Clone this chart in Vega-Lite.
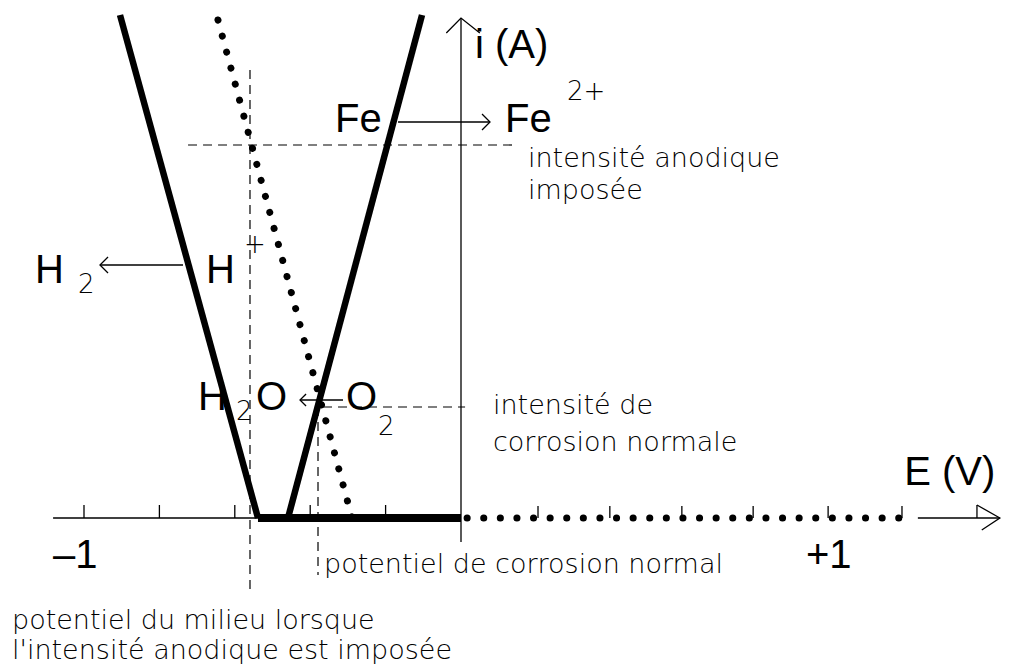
{
  "$schema": "https://vega.github.io/schema/vega-lite/v6.json",
  "width": 1015,
  "height": 666,
  "autosize": {"type": "none"},
  "padding": 0,
  "background": "white",
  "config": {"view": {"stroke": null}},
  "datasets": {
    "thin": [
      {"id": "Eaxis", "k": 0, "E": -1.082, "i": 0}, {"id": "Eaxis", "k": 1, "E": 0, "i": 0},
      {"id": "Earrow", "k": 0, "E": 1.237, "i": 0}, {"id": "Earrow", "k": 1, "E": 1.459, "i": 0},
      {"id": "Ehead", "k": 0, "E": 1.397, "i": 0.13}, {"id": "Ehead", "k": 1, "E": 1.459, "i": 0}, {"id": "Ehead", "k": 2, "E": 1.41, "i": -0.12},
      {"id": "Ehead2", "k": 0, "E": 1.397, "i": 0.13}, {"id": "Ehead2", "k": 1, "E": 1.397, "i": 0},
      {"id": "iaxis", "k": 0, "E": 0, "i": -0.24}, {"id": "iaxis", "k": 1, "E": 0, "i": 5.0},
      {"id": "ihead", "k": 0, "E": -0.039, "i": 4.85}, {"id": "ihead", "k": 1, "E": 0, "i": 5.0}, {"id": "ihead", "k": 2, "E": 0.051, "i": 4.85},
      {"id": "Fearrow", "k": 0, "E": -0.167, "i": 3.96}, {"id": "Fearrow", "k": 1, "E": 0.0785, "i": 3.96},
      {"id": "Fehead", "k": 0, "E": 0.0569, "i": 4.04}, {"id": "Fehead", "k": 1, "E": 0.0785, "i": 3.96}, {"id": "Fehead", "k": 2, "E": 0.0569, "i": 3.88},
      {"id": "H2arrow", "k": 0, "E": -0.9576, "i": 2.53}, {"id": "H2arrow", "k": 1, "E": -0.7374, "i": 2.53},
      {"id": "H2head", "k": 0, "E": -0.9363, "i": 2.61}, {"id": "H2head", "k": 1, "E": -0.9576, "i": 2.53}, {"id": "H2head", "k": 2, "E": -0.9363, "i": 2.45},
      {"id": "O2arrow", "k": 0, "E": -0.427, "i": 1.18}, {"id": "O2arrow", "k": 1, "E": -0.313, "i": 1.18},
      {"id": "O2head", "k": 0, "E": -0.411, "i": 1.24}, {"id": "O2head", "k": 1, "E": -0.427, "i": 1.18}, {"id": "O2head", "k": 2, "E": -0.411, "i": 1.12},
      {"id": "t1", "k": 0, "E": -1.0, "i": 0}, {"id": "t1", "k": 1, "E": -1.0, "i": 0.13},
      {"id": "t2", "k": 0, "E": -0.8, "i": 0}, {"id": "t2", "k": 1, "E": -0.8, "i": 0.13},
      {"id": "t3", "k": 0, "E": -0.6, "i": 0}, {"id": "t3", "k": 1, "E": -0.6, "i": 0.13},
      {"id": "t4", "k": 0, "E": -0.4, "i": 0}, {"id": "t4", "k": 1, "E": -0.4, "i": 0.13},
      {"id": "t5", "k": 0, "E": -0.2, "i": 0}, {"id": "t5", "k": 1, "E": -0.2, "i": 0.13},
      {"id": "r1", "k": 0, "E": 0.2085, "i": 0}, {"id": "r1", "k": 1, "E": 0.2085, "i": 0.12},
      {"id": "r2", "k": 0, "E": 0.403, "i": 0}, {"id": "r2", "k": 1, "E": 0.403, "i": 0.12},
      {"id": "r3", "k": 0, "E": 0.598, "i": 0}, {"id": "r3", "k": 1, "E": 0.598, "i": 0.12},
      {"id": "r4", "k": 0, "E": 0.791, "i": 0}, {"id": "r4", "k": 1, "E": 0.791, "i": 0.12},
      {"id": "r5", "k": 0, "E": 0.994, "i": 0}, {"id": "r5", "k": 1, "E": 0.994, "i": 0.12},
      {"id": "r6", "k": 0, "E": 1.194, "i": 0}, {"id": "r6", "k": 1, "E": 1.194, "i": 0.12}
    ],
    "dashed": [
      {"id": "v1", "k": 0, "E": -0.5597, "i": 4.48}, {"id": "v1", "k": 1, "E": -0.5597, "i": -0.75},
      {"id": "h1", "k": 0, "E": -0.724, "i": 3.73}, {"id": "h1", "k": 1, "E": 0.141, "i": 3.73},
      {"id": "h2", "k": 0, "E": -0.366, "i": 1.11}, {"id": "h2", "k": 1, "E": 0.011, "i": 1.11},
      {"id": "v2", "k": 0, "E": -0.3793, "i": 1.11}, {"id": "v2", "k": 1, "E": -0.3793, "i": -0.57}
    ],
    "thick": [
      {"id": "cath", "k": 0, "E": -0.9045, "i": 5.03}, {"id": "cath", "k": 1, "E": -0.5385, "i": 0},
      {"id": "Fe", "k": 0, "E": -0.4589, "i": 0}, {"id": "Fe", "k": 1, "E": -0.1034, "i": 5.03}
    ],
    "bar": [
      {"id": "zero", "k": 0, "E": -0.5385, "i": 0}, {"id": "zero", "k": 1, "E": 0, "i": 0}
    ],
    "dotted": [
      {"id": "O2", "k": 0, "E": -0.6446, "i": 4.98}, {"id": "O2", "k": 1, "E": -0.2891, "i": 0}, {"id": "O2", "k": 2, "E": 1.229, "i": 0}
    ],
    "big": [
      {"E": 0.0379, "i": 4.6, "t": "i (A)"},
      {"E": -0.3342, "i": 3.86, "t": "Fe"},
      {"E": 0.1191, "i": 3.86, "t": "Fe"},
      {"E": -1.13, "i": 2.35, "t": "H"},
      {"E": -0.6764, "i": 2.35, "t": "H"},
      {"E": -0.6976, "i": 1.08, "t": "H"},
      {"E": -0.5438, "i": 1.08, "t": "O"},
      {"E": -0.305, "i": 1.08, "t": "O"},
      {"E": 1.2, "i": 0.33, "t": "E (V)"},
      {"E": -1.0822, "i": -0.5, "t": "–1"},
      {"E": 0.934, "i": -0.5, "t": "+1"}
    ],
    "small": [
      {"E": 0.1814, "i": 3.51, "t": "intensité anodique"},
      {"E": 0.1814, "i": 3.19, "t": "imposée"},
      {"E": 0.0866, "i": 1.04, "t": "intensité de"},
      {"E": 0.0866, "i": 0.67, "t": "corrosion normale"},
      {"E": -0.3634, "i": -0.55, "t": "potentiel de corrosion normal"},
      {"E": -1.191, "i": -1.11, "t": "potentiel du milieu lorsque"},
      {"E": -1.191, "i": -1.41, "t": "l'intensité anodique est imposée"}
    ],
    "sub": [
      {"E": -1.0159, "i": 2.25, "t": "2"},
      {"E": -0.5968, "i": 0.98, "t": "2"},
      {"E": -0.2202, "i": 0.83, "t": "2"},
      {"E": 0.287, "i": 4.18, "t": "2+"},
      {"E": -0.5756, "i": 2.65, "t": "+"}
    ]
  },
  "encoding": {
    "x": {"field": "E", "type": "quantitative", "axis": null,
          "scale": {"domain": [-1.2228, 0, 1.5], "range": [0, 461, 1015], "nice": false, "zero": false}},
    "y": {"field": "i", "type": "quantitative", "axis": null,
          "scale": {"domain": [-1.48, 5.18], "nice": false, "zero": false}}
  },
  "layer": [
    {"data": {"name": "dashed"}, "mark": {"type": "line", "color": "black", "strokeWidth": 1.2, "strokeDash": [9, 6]},
     "encoding": {"detail": {"field": "id"}, "order": {"field": "k"}}},
    {"data": {"name": "thin"}, "mark": {"type": "line", "color": "black", "strokeWidth": 1.3},
     "encoding": {"detail": {"field": "id"}, "order": {"field": "k"}}},
    {"data": {"name": "dotted"}, "mark": {"type": "line", "color": "black", "strokeWidth": 7, "strokeCap": "round", "strokeDash": [0.1, 16.5]},
     "encoding": {"detail": {"field": "id"}, "order": {"field": "k"}}},
    {"data": {"name": "thick"}, "mark": {"type": "line", "color": "black", "strokeWidth": 6.5},
     "encoding": {"detail": {"field": "id"}, "order": {"field": "k"}}},
    {"data": {"name": "bar"}, "mark": {"type": "line", "color": "black", "strokeWidth": 8},
     "encoding": {"detail": {"field": "id"}, "order": {"field": "k"}}},
    {"data": {"name": "big"}, "mark": {"type": "text", "align": "left", "baseline": "alphabetic", "font": "Liberation Sans", "fontSize": 40, "color": "black"},
     "encoding": {"text": {"field": "t"}}},
    {"data": {"name": "small"}, "mark": {"type": "text", "align": "left", "baseline": "alphabetic", "font": "DejaVu Sans", "fontWeight": 200, "fontSize": 27, "color": "black"},
     "encoding": {"text": {"field": "t"}}},
    {"data": {"name": "sub"}, "mark": {"type": "text", "align": "left", "baseline": "alphabetic", "font": "DejaVu Sans", "fontWeight": 200, "fontSize": 26, "color": "black"},
     "encoding": {"text": {"field": "t"}}}
  ]
}
